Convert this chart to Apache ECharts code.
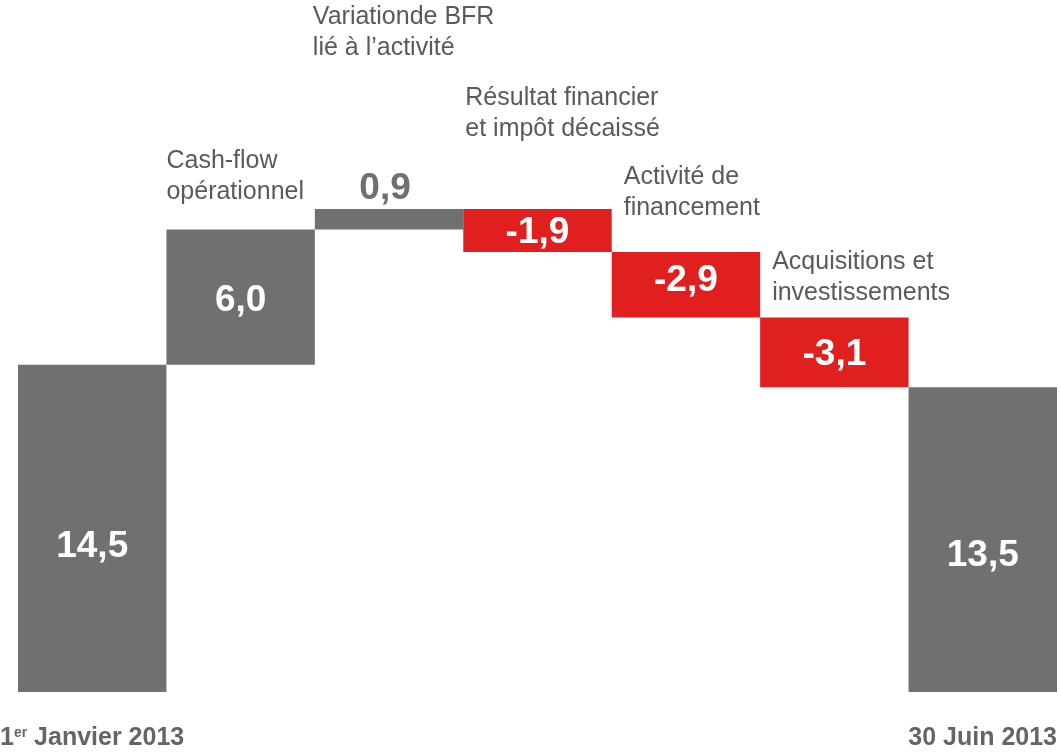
<!DOCTYPE html>
<html>
<head>
<meta charset="utf-8">
<script src="https://cdn.jsdelivr.net/npm/echarts@6/dist/echarts.min.js"></script>
<style>
html,body{margin:0;padding:0;background:#fff}
#main{width:1061px;height:752px}
</style>
</head>
<body>
<div id="main"></div>
<script>
// valeurs (Md€)
var startValue = 14.5;
var changes = [6.0, 0.9, -1.9, -2.9, -3.1];
var endValue = 13.5;
var startLabel = '1{sup|er} Janvier 2013';
var endLabel = '30 Juin 2013';
var stepLabels = [
    'Cash-flow\nopérationnel',
    'Variationde BFR\nlié à l\u2019activité',
    'Résultat financier\net impôt décaissé',
    'Activité de\nfinancement',
    'Acquisitions et\ninvestissements'
];

var FONT = '"Liberation Sans", Arial, sans-serif';
var GREY = '#707070';
var RED = '#e0201f';
var TEXT = '#5a5a5a';

// décalages des libellés (px) par rapport au coin haut-gauche de la barre
var descDx = [0, 0, -2, 2, 12, 12, 0];
var descDy = [0, -84, -207, -126, -90, -71, 0];
var valueDy = [18, 4, 0, 2, -4, 2, 16];

var base = [], heights = [], signed = [], tops = [];
var running = startValue;
base.push(0); heights.push(startValue); signed.push(startValue); tops.push(startValue);
for (var i = 0; i < changes.length; i++) {
    var next = running + changes[i];
    base.push(Math.min(running, next));
    heights.push(Math.abs(changes[i]));
    signed.push(changes[i]);
    tops.push(Math.max(running, next));
    running = next;
}
base.push(0); heights.push(endValue); signed.push(endValue); tops.push(endValue);
var categories = heights.map(function(v, i){ return 'c' + i; });

function fmt(v){
    return v.toFixed(1).replace('.', ',');
}

var barData = heights.map(function(h, i){
    var item = {
        value: h,
        itemStyle: {color: signed[i] < 0 ? RED : GREY},
        label: {offset: [0, valueDy[i]]}
    };
    if (i === 2) {
        item.label = {position: 'top', distance: 2, color: GREY, offset: [-4, 0]};
    }
    return item;
});

var descData = [];
for (var k = 1; k <= changes.length; k++) descData.push([k, tops[k]]);

var myChart = echarts.init(document.getElementById('main'));
var option = {
    animation: false,
    backgroundColor: '#fff',
    grid: {left: 18, right: 4, top: 15, bottom: 60},
    xAxis: {
        type: 'category',
        data: categories,
        axisLine: {show: false},
        axisTick: {show: false},
        axisLabel: {show: false},
        splitLine: {show: false}
    },
    yAxis: {
        type: 'value',
        min: 0,
        max: 30,
        show: false
    },
    series: [
        {
            name: 'base',
            type: 'bar',
            stack: 'wf',
            barWidth: '100%',
            itemStyle: {color: 'transparent'},
            data: base,
            silent: true
        },
        {
            name: 'flux',
            type: 'bar',
            stack: 'wf',
            barWidth: '100%',
            data: barData,
            label: {
                show: true,
                position: 'inside',
                color: '#fff',
                fontFamily: FONT,
                fontWeight: 'bold',
                fontSize: 37,
                formatter: function(p){ return fmt(signed[p.dataIndex]); }
            }
        },
        {
            name: 'libelles',
            type: 'custom',
            silent: true,
            data: descData,
            encode: {x: 0, y: 1},
            renderItem: function(params, api){
                var i = api.value(0);
                var p = api.coord([i, api.value(1)]);
                var w = api.size([1, 0])[0];
                return {
                    type: 'text',
                    style: {
                        text: stepLabels[i - 1],
                        x: p[0] - w / 2 + descDx[i],
                        y: p[1] + descDy[i],
                        fill: TEXT,
                        fontFamily: FONT,
                        fontSize: 25,
                        lineHeight: 31,
                        align: 'left',
                        verticalAlign: 'top'
                    }
                };
            }
        },
        {
            name: 'dates',
            type: 'custom',
            silent: true,
            data: [[0, 0], [heights.length - 1, 0]],
            encode: {x: 0, y: 1},
            renderItem: function(params, api){
                var i = api.value(0);
                var p = api.coord([i, 0]);
                var w = api.size([1, 0])[0];
                var first = i === 0;
                return {
                    type: 'text',
                    style: {
                        text: first ? startLabel : endLabel,
                        x: first ? p[0] - w / 2 - 18 : p[0] + w / 2,
                        y: p[1] + 34,
                        fill: '#656565',
                        fontFamily: FONT,
                        fontWeight: 'bold',
                        fontSize: 25,
                        align: first ? 'left' : 'right',
                        verticalAlign: 'top',
                        rich: {
                            sup: {
                                fontFamily: FONT,
                                fontSize: 14,
                                fontWeight: 'bold',
                                fill: '#656565',
                                verticalAlign: 'top',
                                padding: [0, 0, 10, 0]
                            }
                        }
                    }
                };
            }
        }
    ]
};
if (option && typeof option === "object") {
    myChart.setOption(option, true);
}
</script>
</body>
</html>
